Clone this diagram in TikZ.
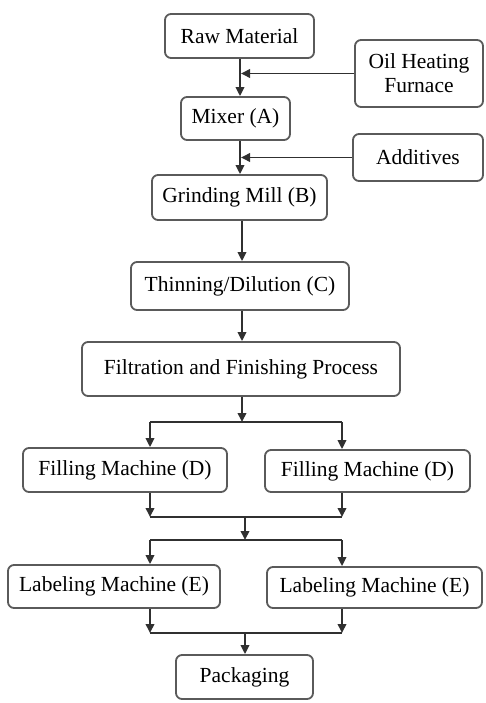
\documentclass[tikz,border=0pt]{standalone}
\usepackage{fontspec}
\setmainfont{Liberation Serif}
\usetikzlibrary{arrows.meta}
\definecolor{boxgray}{HTML}{5A5A5A}
\definecolor{arrgray}{HTML}{303030}
\begin{document}
\begin{tikzpicture}[x=1pt,y=-1pt,
  box/.style={draw=boxgray, line width=1.8pt, rounded corners=6pt, fill=white, align=center,
    font=\fontsize{21.5}{24}\selectfont, inner sep=0pt},
  arr/.style={draw=arrgray, line width=1.9pt, -{Triangle[length=9pt,width=8.5pt]}},
  ln/.style={draw=arrgray, line width=1.9pt}]
\useasboundingbox (0,0) rectangle (485,703);
\node[box, minimum width=149pt, minimum height=44pt] (raw) at (239.5,36) {Raw Material};
\node[box, minimum width=128pt, minimum height=67pt] (oil) at (419,73.5) {Oil Heating\\Furnace};
\node[box, minimum width=109pt, minimum height=43pt] (mix) at (235.5,118.5) {Mixer (A)};
\node[box, minimum width=130pt, minimum height=47pt] (add) at (418,157.5) {Additives};
\node[box, minimum width=175pt, minimum height=45pt] (grind) at (239.5,197.5) {Grinding Mill (B)};
\node[box, minimum width=218pt, minimum height=48pt] (thin) at (240,286) {Thinning/Dilution (C)};
\node[box, minimum width=318pt, minimum height=54pt] (filt) at (241,369) {Filtration and Finishing Process};
\node[box, minimum width=204pt, minimum height=44pt] (fillL) at (125,470) {Filling Machine (D)};
\node[box, minimum width=205pt, minimum height=42pt] (fillR) at (367.5,471) {Filling Machine (D)};
\node[box, minimum width=212pt, minimum height=43pt] (labL) at (114,586.5) {Labeling Machine (E)};
\node[box, minimum width=215pt, minimum height=41pt] (labR) at (374.5,587.5) {Labeling Machine (E)};
\node[box, minimum width=137pt, minimum height=44pt] (pack) at (244.5,677) {Packaging};
% guide coordinates
\coordinate (xa) at (240,0);
\coordinate (xb) at (242,0);
\coordinate (xm) at (245,0);
\coordinate (xl) at (150,0);
\coordinate (xr) at (342,0);
\coordinate (y1) at (0,422);
\coordinate (y2) at (0,517);
\coordinate (y3) at (0,540);
\coordinate (y4) at (0,633);
% top chain
\draw[arr] (raw.south -| xa) -- (mix.north -| xa);
\draw[arr, shorten >=1pt] (oil.west) -- (oil.west -| xa);
\draw[arr] (mix.south -| xa) -- (grind.north -| xa);
\draw[arr, shorten >=1pt] (add.west) -- (add.west -| xa);
\draw[arr] (grind.south -| xb) -- (thin.north -| xb);
\draw[arr] (thin.south -| xb) -- (filt.north -| xb);
% branch to filling
\draw[arr] (filt.south -| xb) -- (xb |- y1);
\draw[ln] (xl |- y1) -- (xr |- y1);
\draw[arr] (xl |- y1) -- (fillL.north -| xl);
\draw[arr] (xr |- y1) -- (fillR.north -| xr);
% merge from filling
\draw[arr] (fillL.south -| xl) -- (xl |- y2);
\draw[arr] (fillR.south -| xr) -- (xr |- y2);
\draw[ln] (xl |- y2) -- (xr |- y2);
\draw[arr] (xm |- y2) -- (xm |- y3);
\draw[ln] (xl |- y3) -- (xr |- y3);
\draw[arr] (xl |- y3) -- (labL.north -| xl);
\draw[arr] (xr |- y3) -- (labR.north -| xr);
% merge from labeling
\draw[arr] (labL.south -| xl) -- (xl |- y4);
\draw[arr] (labR.south -| xr) -- (xr |- y4);
\draw[ln] (xl |- y4) -- (xr |- y4);
\draw[arr] (xm |- y4) -- (pack.north -| xm);
\end{tikzpicture}
\end{document}
